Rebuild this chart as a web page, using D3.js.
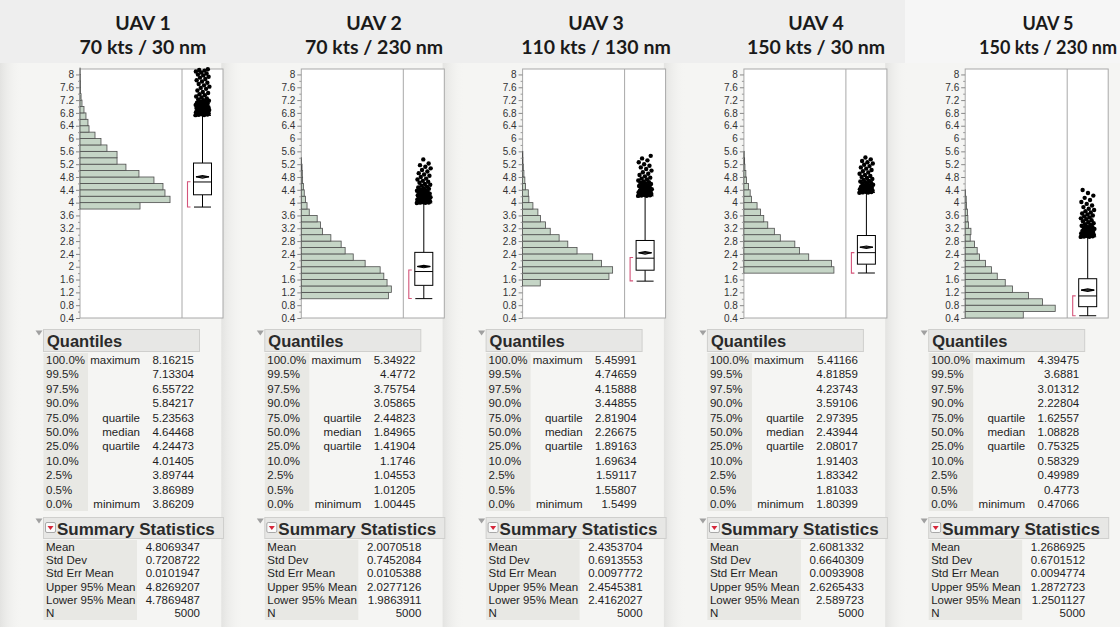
<!DOCTYPE html>
<html><head><meta charset="utf-8">
<script src="https://cdn.jsdelivr.net/npm/d3@7"></script>
<style>body{margin:0;background:#f5f5f3;}svg{display:block}</style>
</head><body>
<svg id="c" width="1120" height="627"></svg>
<script>
// ---------------- DATA ----------------
const uavNames = ["UAV 1", "UAV 2", "UAV 3", "UAV 4", "UAV 5"];
const uavSubtitles = ["70 kts / 30 nm", "70 kts / 230 nm", "110 kts / 130 nm", "150 kts / 30 nm", "150 kts / 230 nm"];
const yTickLabels = ["8","7.6","7.2","6.8","6.4","6","5.6","5.2","4.8","4.4","4","3.6","3.2","2.8","2.4","2","1.6","1.2","0.8","0.4"];
const binWidth = 0.2;
const binStarts = [3.8, 1.0, 1.4, 1.8, 0.4];
const counts1 = [452, 678, 640, 625, 557, 444, 346, 279, 279, 203, 158, 113, 68, 60, 45, 30, 15, 8, 4, 3, 2, 1];
const counts2 = [592, 612, 583, 561, 536, 434, 353, 298, 271, 201, 144, 131, 108, 54, 39, 29, 20, 14, 9, 7, 5, 2];
const counts3 = [149, 728, 759, 666, 591, 459, 381, 308, 233, 193, 151, 129, 87, 53, 48, 25, 19, 11, 6, 3, 2];
const counts4 = [875, 852, 630, 540, 495, 354, 296, 232, 193, 161, 128, 74, 61, 45, 26, 19, 10, 7, 3];
const counts5 = [567, 879, 755, 618, 462, 391, 313, 257, 198, 140, 117, 91, 49, 56, 32, 26, 22, 13, 10, 3];

const quantileLevels = ["100.0%","99.5%","97.5%","90.0%","75.0%","50.0%","25.0%","10.0%","2.5%","0.5%","0.0%"];
const quantileNames = ["maximum","","","","quartile","median","quartile","","","","minimum"];
const quantiles1 = ["8.16215","7.13304","6.55722","5.84217","5.23563","4.64468","4.24473","4.01405","3.89744","3.86989","3.86209"];
const quantiles2 = ["5.34922","4.4772","3.75754","3.05865","2.44823","1.84965","1.41904","1.1746","1.04553","1.01205","1.00445"];
const quantiles3 = ["5.45991","4.74659","4.15888","3.44855","2.81904","2.26675","1.89163","1.69634","1.59117","1.55807","1.5499"];
const quantiles4 = ["5.41166","4.81859","4.23743","3.59106","2.97395","2.43944","2.08017","1.91403","1.83342","1.81033","1.80399"];
const quantiles5 = ["4.39475","3.6881","3.01312","2.22804","1.62557","1.08828","0.75325","0.58329","0.49989","0.4773","0.47066"];

const summaryNames = ["Mean","Std Dev","Std Err Mean","Upper 95% Mean","Lower 95% Mean","N"];
const summary1 = ["4.8069347","0.7208722","0.0101947","4.8269207","4.7869487","5000"];
const summary2 = ["2.0070518","0.7452084","0.0105388","2.0277126","1.9863911","5000"];
const summary3 = ["2.4353704","0.6913553","0.0097772","2.4545381","2.4162027","5000"];
const summary4 = ["2.6081332","0.6640309","0.0093908","2.6265433","2.589723","5000"];
const summary5 = ["1.2686925","0.6701512","0.0094774","1.2872723","1.2501127","5000"];

const shortestHalf = [[3.862, 4.65], [1.01, 1.90], [1.56, 2.29], [1.80, 2.44], [0.471, 1.09]];

const outliers1 = [6.73,6.735,6.74,6.75,6.755,6.76,6.77,6.775,6.78,6.79,6.80,6.805,6.81,6.82,6.83,6.84,6.845,6.85,6.86,6.87,6.88,6.89,6.90,6.91,6.92,6.93,6.95,6.96,6.97,6.98,7.00,7.01,7.02,7.03,7.05,7.06,7.08,7.09,7.10,7.12,7.14,7.16,7.18,7.20,7.22,7.25,7.28,7.31,7.35,7.38,7.42,7.45,7.50,7.55,7.58,7.62,7.66,7.70,7.74,7.78,7.82,7.86,7.90,7.93,7.97,8.00,8.03,8.06,8.09,8.12,8.14,8.162];
const outliers2 = [3.99,3.995,4.00,4.005,4.01,4.02,4.025,4.03,4.04,4.05,4.06,4.07,4.08,4.09,4.10,4.11,4.12,4.13,4.14,4.15,4.16,4.17,4.18,4.19,4.20,4.22,4.23,4.25,4.26,4.28,4.30,4.32,4.33,4.35,4.37,4.39,4.41,4.43,4.45,4.47,4.50,4.53,4.56,4.58,4.62,4.65,4.68,4.72,4.75,4.80,4.84,4.88,4.92,4.97,5.02,5.07,5.12,5.17,5.22,5.349];
const outliers3 = [4.21,4.215,4.22,4.23,4.235,4.24,4.25,4.26,4.27,4.28,4.29,4.30,4.31,4.32,4.33,4.34,4.35,4.36,4.38,4.39,4.41,4.42,4.44,4.46,4.48,4.50,4.52,4.54,4.56,4.58,4.60,4.62,4.64,4.66,4.69,4.72,4.75,4.78,4.82,4.86,4.90,4.95,5.00,5.05,5.10,5.15,5.20,5.26,5.32,5.38,5.46];
const outliers4 = [4.31,4.315,4.32,4.33,4.335,4.34,4.35,4.36,4.37,4.38,4.39,4.40,4.41,4.42,4.43,4.45,4.46,4.48,4.50,4.52,4.54,4.56,4.58,4.60,4.62,4.64,4.66,4.68,4.71,4.74,4.77,4.80,4.83,4.86,4.90,4.94,4.98,5.02,5.06,5.10,5.14,5.18,5.22,5.26,5.30,5.35,5.41];
const outliers5 = [2.93,2.935,2.94,2.95,2.955,2.96,2.97,2.98,2.99,3.00,3.01,3.02,3.03,3.04,3.05,3.07,3.08,3.10,3.12,3.14,3.16,3.18,3.20,3.22,3.24,3.26,3.28,3.30,3.33,3.36,3.39,3.42,3.45,3.48,3.51,3.54,3.57,3.60,3.63,3.66,3.69,3.73,3.77,3.81,3.86,3.91,3.96,4.02,4.08,4.15,4.22,4.30,4.395];

const allCounts = [counts1, counts2, counts3, counts4, counts5];
const allQuantiles = [quantiles1, quantiles2, quantiles3, quantiles4, quantiles5];
const allSummary = [summary1, summary2, summary3, summary4, summary5];
const allOutliers = [outliers1, outliers2, outliers3, outliers4, outliers5];

// ---------------- LAYOUT ----------------
const panelX = [80, 301.3, 522.6, 743.9, 965.2];
const titleCx = [143, 374, 596, 816, 1048];
const titleSize = [19.5, 19.5, 19.5, 19.5, 18];
const HIST_W = 102, PLOT_W = 143, TOP = 69, BOT = 318;
const FONT = "'Liberation Sans', Arial, sans-serif";

const svg = d3.select("#c");
svg.append("rect").attr("width", 1120).attr("height", 627).attr("fill", "#f5f5f3");
const defs = svg.append("defs");
const g1 = defs.append("linearGradient").attr("id", "shade").attr("x1", 0).attr("x2", 1).attr("y1", 0).attr("y2", 0);
g1.append("stop").attr("offset", 0).attr("stop-color", "#e3e3e1");
g1.append("stop").attr("offset", 1).attr("stop-color", "#f5f5f3").attr("stop-opacity", 0);
panelX.forEach(px => {
  svg.append("rect").attr("x", Math.max(0, px - 80)).attr("y", 63).attr("width", 22).attr("height", 564).attr("fill", "url(#shade)");
});
svg.append("rect").attr("width", 1120).attr("height", 63).attr("fill", "#eeeeee");
svg.append("rect").attr("x", 905).attr("width", 215).attr("height", 63).attr("fill", "#f6f6f6");

const yScale = d3.scaleLinear().domain([0.4, 8.17]).range([BOT, TOP]);
const yTickVals = yTickLabels.map(Number);
const minorVals = yTickVals.slice(1).map(v => +(v + 0.2).toFixed(1));

uavNames.forEach((name, i) => {
  const x0 = panelX[i];
  const g = svg.append("g");

  // titles
  [name, uavSubtitles[i]].forEach((t, k) => {
    g.append("text").attr("x", titleCx[i]).attr("y", 30 + k * 24).attr("text-anchor", "middle")
      .attr("font-family", "Lato, 'Open Sans', sans-serif").attr("font-weight", 700).attr("font-size", titleSize[i])
      .attr("fill", "#1a1a1a").text(t);
  });

  // plot frame
  g.append("rect").attr("x", x0).attr("y", TOP).attr("width", PLOT_W).attr("height", BOT - TOP)
    .attr("fill", "#fff").attr("stroke", "#a8a8a8").attr("stroke-width", 1);

  // histogram
  const counts = allCounts[i];
  const xh = d3.scaleLinear().domain([0, d3.max(counts) * 1.133]).range([x0, x0 + HIST_W]);
  g.append("g").selectAll("rect").data(counts).join("rect")
    .attr("x", xh(0))
    .attr("y", (d, k) => yScale(binStarts[i] + (k + 1) * binWidth))
    .attr("width", d => xh(d) - xh(0))
    .attr("height", (d, k) => yScale(binStarts[i] + k * binWidth) - yScale(binStarts[i] + (k + 1) * binWidth))
    .attr("fill", "#c5d5c6").attr("stroke", "#4d4d4d").attr("stroke-width", 0.8);

  // divider
  g.append("line").attr("x1", x0 + HIST_W).attr("x2", x0 + HIST_W).attr("y1", TOP).attr("y2", BOT)
    .attr("stroke", "#a8a8a8");

  // axis
  const ax = g.append("g").attr("transform", `translate(${x0},0)`)
    .call(d3.axisLeft(yScale).tickValues(yTickVals).tickSize(4).tickPadding(2).tickFormat((d, k) => yTickLabels[k]));
  ax.select(".domain").remove();
  ax.selectAll("line").attr("stroke", "#888");
  ax.selectAll("text").attr("font-family", FONT).attr("font-size", 10).attr("fill", "#333");
  const mx = g.append("g").attr("transform", `translate(${x0},0)`)
    .call(d3.axisLeft(yScale).tickValues(minorVals).tickSize(2).tickFormat(""));
  mx.select(".domain").remove();
  mx.selectAll("line").attr("stroke", "#999");

  // box plot
  const q = allQuantiles[i].map(Number);
  const s = allSummary[i].map(Number);
  const qMax = q[0], q3 = q[4], med = q[5], q1 = q[6], qMin = q[10];
  const iqr = q3 - q1;
  const upW = Math.min(qMax, q3 + 1.5 * iqr);
  const loW = Math.max(qMin, q1 - 1.5 * iqr);
  const cx = x0 + HIST_W + 20.5;
  const bx = g.append("g").attr("stroke", "#000").attr("stroke-width", 1).attr("fill", "none");
  bx.append("line").attr("x1", cx).attr("x2", cx).attr("y1", yScale(upW)).attr("y2", yScale(q3));
  bx.append("line").attr("x1", cx).attr("x2", cx).attr("y1", yScale(q1)).attr("y2", yScale(loW));
  bx.append("line").attr("x1", cx - 8.5).attr("x2", cx + 8.5).attr("y1", yScale(loW)).attr("y2", yScale(loW));
  bx.append("line").attr("x1", cx - 8.5).attr("x2", cx + 8.5).attr("y1", yScale(upW)).attr("y2", yScale(upW));
  bx.append("rect").attr("x", cx - 9).attr("y", yScale(q3)).attr("width", 18).attr("height", yScale(q1) - yScale(q3)).attr("fill", "#fff");
  bx.append("line").attr("x1", cx - 9).attr("x2", cx + 9).attr("y1", yScale(med)).attr("y2", yScale(med));
  const mY = yScale(s[0]);
  const hi = Math.min(yScale(s[3]), mY - 1.3), lo = Math.max(yScale(s[4]), mY + 1.3);
  bx.append("path").attr("d", `M${cx - 6.5},${mY}L${cx},${hi}L${cx + 6.5},${mY}L${cx},${lo}Z`).attr("stroke-width", 1.1);
  bx.append("line").attr("x1", cx - 6.5).attr("x2", cx + 6.5).attr("y1", mY).attr("y2", mY).attr("stroke-width", 1.3);

  // outliers (deterministic golden-ratio horizontal spread)
  g.append("g").selectAll("circle").data(allOutliers[i]).join("circle")
    .attr("cx", (d, k) => cx + (((k * 0.6180339887) % 1) - 0.5) * 14)
    .attr("cy", d => yScale(d)).attr("r", 2.2).attr("fill", "#000");

  // shortest half bracket
  const bxl = x0 + HIST_W + 5.5;
  const sh = shortestHalf[i];
  g.append("path").attr("d", `M${bxl + 3},${yScale(sh[1])}H${bxl}V${yScale(sh[0])}H${bxl + 3}`)
    .attr("fill", "none").attr("stroke", "#d4547a").attr("stroke-width", 1.1);

  // ---------- Quantiles table ----------
  const tri = (tx, ty) => g.append("path").attr("d", `M${tx - 3.5},${ty - 2.5}H${tx + 3.5}L${tx},${ty + 2.5}Z`).attr("fill", "#a0a0a0");
  tri(x0 - 41, 333);
  g.append("rect").attr("x", x0 - 36.5).attr("y", 329.5).attr("width", 156).attr("height", 22)
    .attr("fill", "#e7e7e5").attr("stroke", "#cfcfcd");
  g.append("text").attr("x", x0 - 33).attr("y", 346.5).attr("font-family", FONT).attr("font-weight", 700)
    .attr("font-size", 16.5).attr("fill", "#2a2a2a").text("Quantiles");
  g.append("rect").attr("x", x0 - 36.5).attr("y", 353).attr("width", 44.5).attr("height", 158).attr("fill", "#e8e8e4");
  const qRowY = k => 364 + k * 14.4;
  const qt = g.append("g").attr("font-family", FONT).attr("font-size", 11.5).attr("fill", "#1e1e1e");
  qt.selectAll(".lv").data(quantileLevels).join("text").attr("x", x0 - 34).attr("y", (d, k) => qRowY(k)).text(d => d);
  qt.selectAll(".nm").data(quantileNames).join("text").attr("x", x0 + 60).attr("y", (d, k) => qRowY(k)).attr("text-anchor", "end").text(d => d);
  qt.selectAll(".vl").data(allQuantiles[i]).join("text").attr("x", x0 + 114).attr("y", (d, k) => qRowY(k)).attr("text-anchor", "end").text(d => d);

  // ---------- Summary statistics ----------
  tri(x0 - 41, 521);
  g.append("rect").attr("x", x0 - 36.5).attr("y", 517.5).attr("width", 180).attr("height", 21)
    .attr("fill", "#e7e7e5").attr("stroke", "#cfcfcd");
  g.append("rect").attr("x", x0 - 34.5).attr("y", 522.5).attr("width", 10).attr("height", 10).attr("rx", 1.5)
    .attr("fill", "#fafafa").attr("stroke", "#a8a8a8");
  g.append("path").attr("d", `M${x0 - 32.5},${526}H${x0 - 26.5}L${x0 - 29.5},${530}Z`).attr("fill", "#d6263a");
  g.append("text").attr("x", x0 - 23).attr("y", 534.5).attr("font-family", FONT).attr("font-weight", 700)
    .attr("font-size", 17).attr("fill", "#2a2a2a").text("Summary Statistics");
  g.append("rect").attr("x", x0 - 36.5).attr("y", 540).attr("width", 93.5).attr("height", 80).attr("fill", "#e8e8e4");
  const sRowY = k => 551 + k * 13.2;
  const st = g.append("g").attr("font-family", FONT).attr("font-size", 11.5).attr("fill", "#1e1e1e");
  st.selectAll(".sn").data(summaryNames).join("text").attr("x", x0 - 34).attr("y", (d, k) => sRowY(k)).text(d => d);
  st.selectAll(".sv").data(allSummary[i]).join("text").attr("text-anchor", "end")
    .attr("x", x0 + 120).attr("y", (d, k) => sRowY(k)).text(d => d);
});
</script>
</body></html>
